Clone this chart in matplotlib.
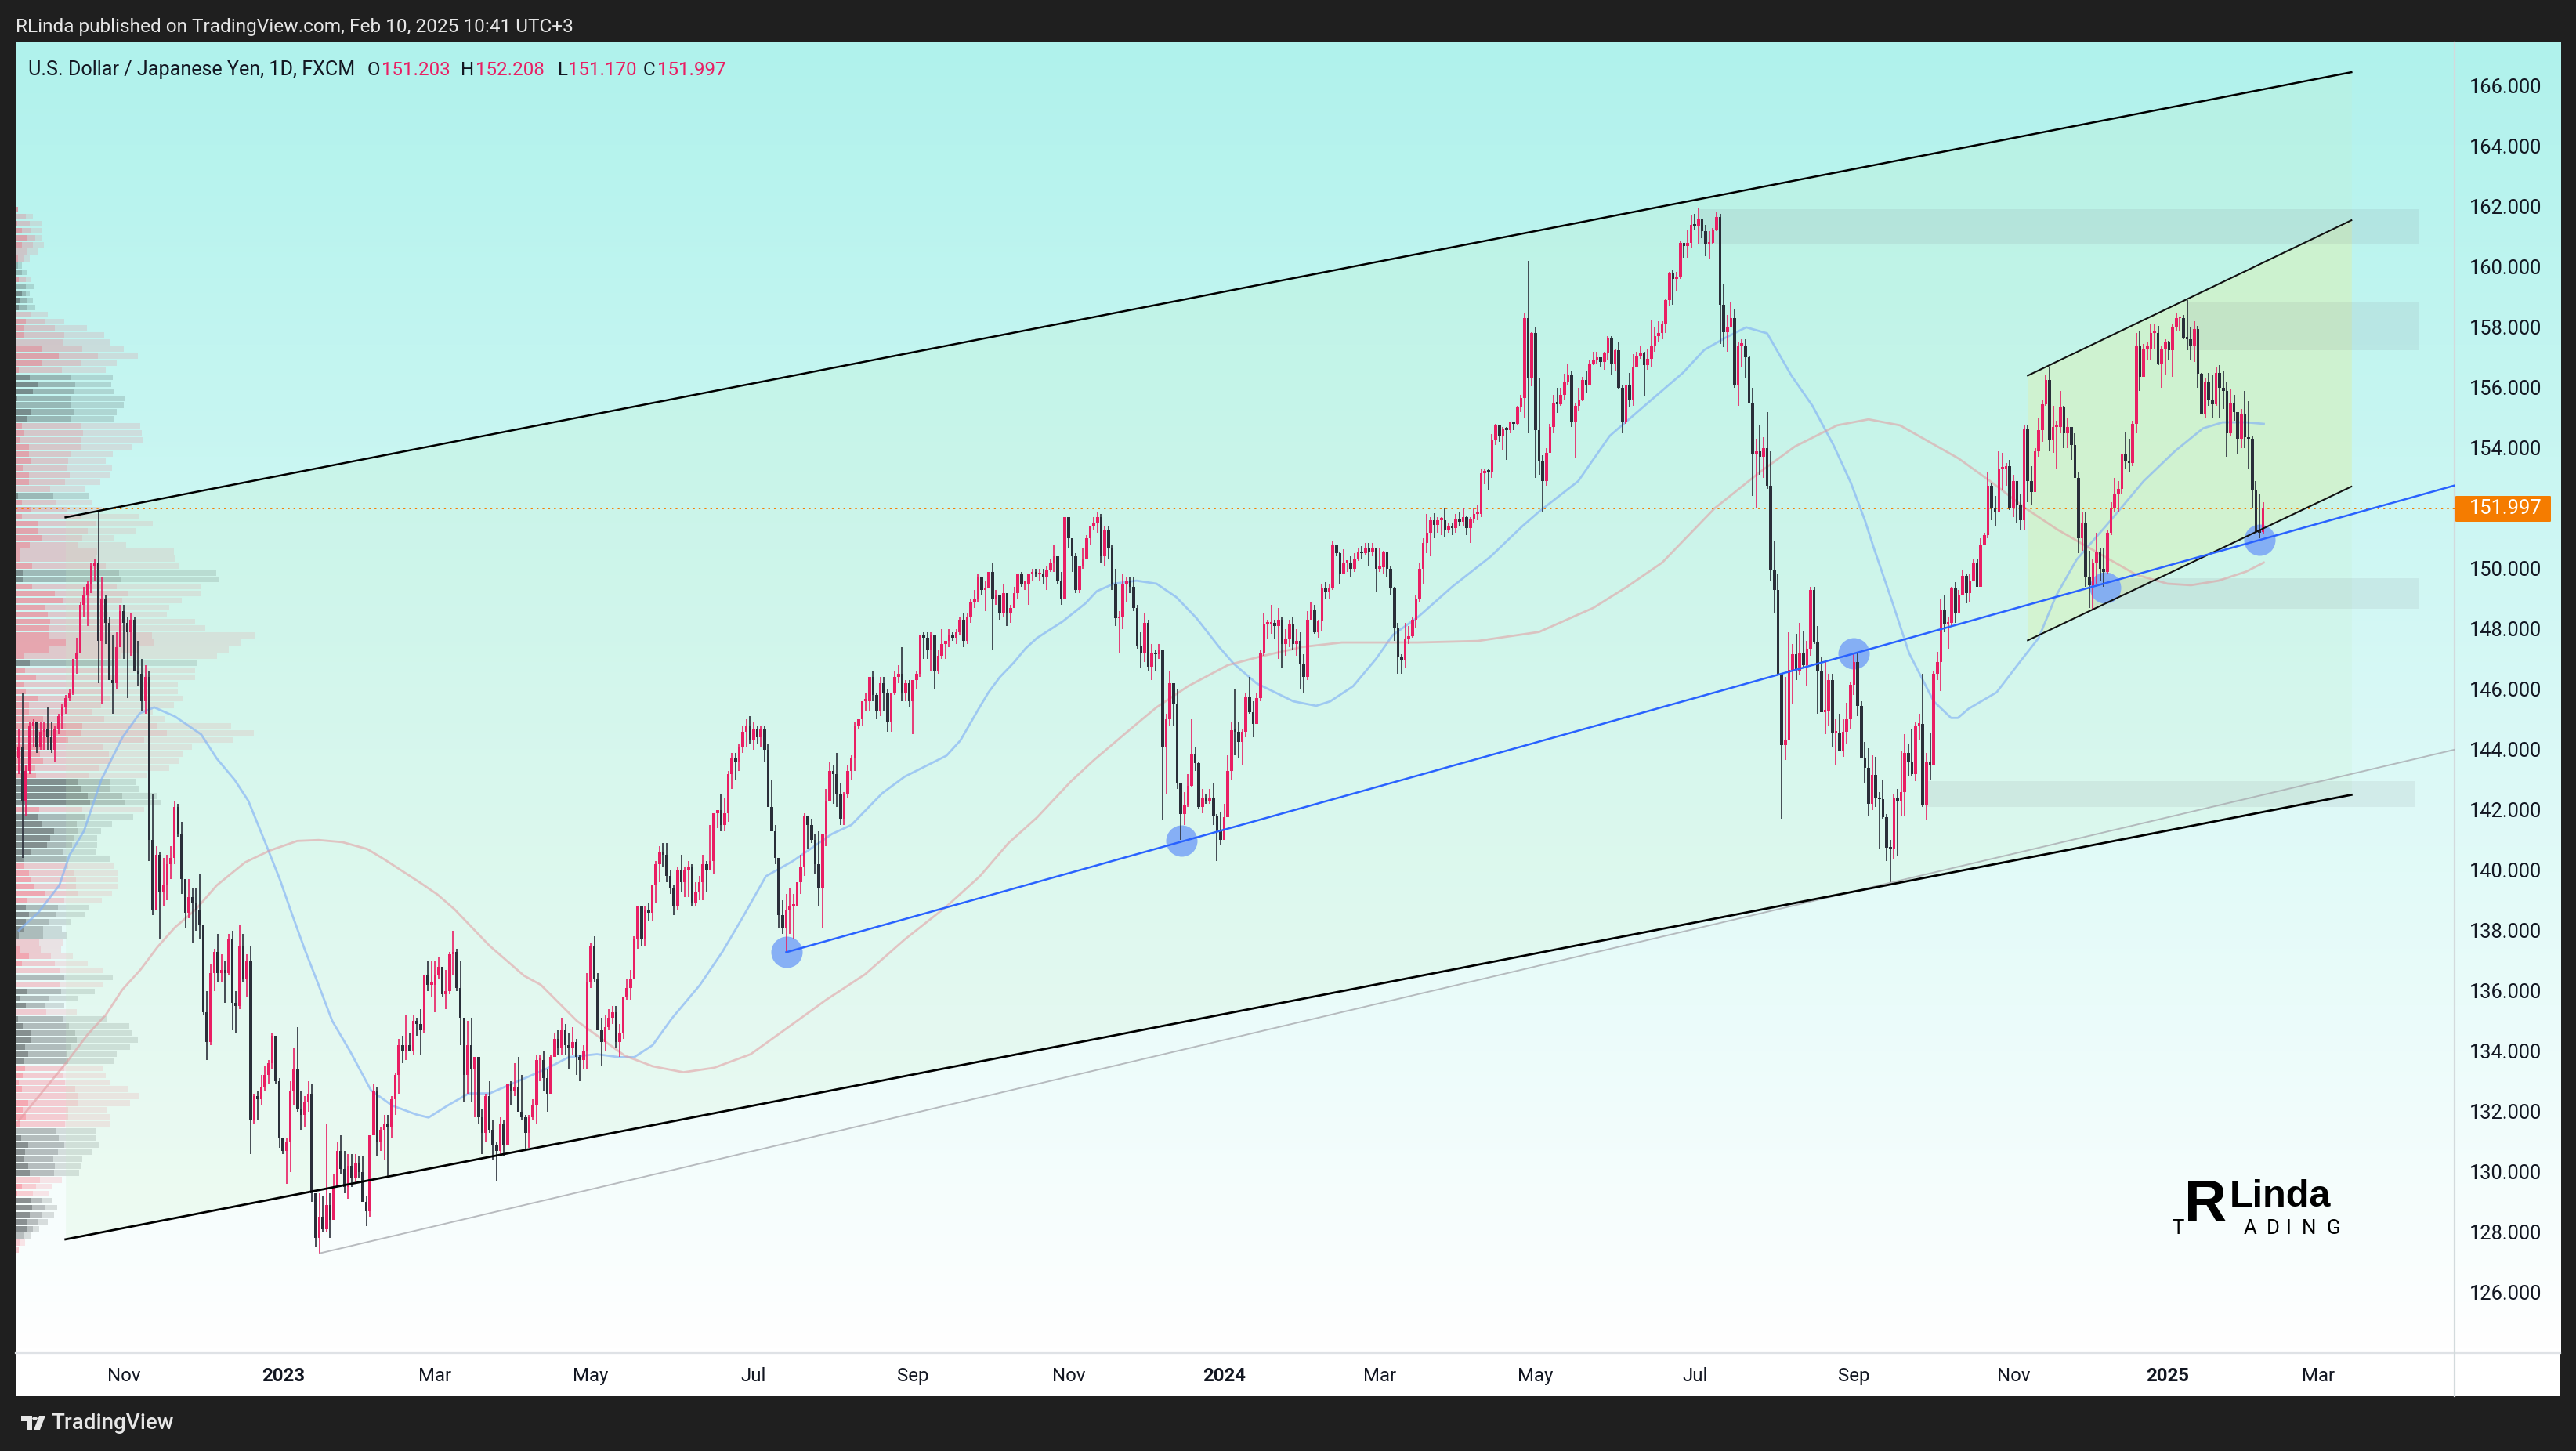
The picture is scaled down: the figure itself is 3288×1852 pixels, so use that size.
import numpy as np
import matplotlib
matplotlib.use("Agg")
import matplotlib.pyplot as plt
from matplotlib.patches import Rectangle, Polygon, FancyBboxPatch

# ---------------- data ----------------
first_bar = -30
closes = [
144.1,142.3,143.3,144.8,144.9,144.1,144.6,144.7,144.4,144.0,
144.7,145.1,145.4,145.7,145.9,147.0,147.2,148.8,149.1,149.5,
150.1,150.2,147.6,149.0,148.2,146.3,146.2,147.4,148.6,148.2,
147.9,148.3,146.6,146.5,145.6,146.4,141.0,138.7,140.5,139.3,
139.5,140.2,140.4,142.1,141.2,139.7,138.6,139.1,138.9,138.7,
138.2,135.3,134.3,136.6,137.3,136.6,136.7,136.6,137.7,135.6,
135.5,137.5,136.4,137.0,131.7,132.5,132.4,132.8,133.2,133.6,
134.5,133.0,131.1,130.7,131.0,132.7,133.4,132.1,131.9,132.3,
132.6,129.3,127.8,128.5,128.1,128.9,128.4,129.5,130.7,130.1,
129.5,130.2,129.8,130.3,130.0,129.0,128.7,131.2,132.7,131.0,
131.4,131.6,131.5,132.4,133.2,134.2,134.0,134.2,134.0,135.0,
134.9,134.7,136.5,136.2,136.2,136.5,136.8,135.9,136.0,137.2,
137.3,136.1,135.1,133.2,134.2,133.4,133.8,131.8,131.3,132.5,
131.4,130.9,130.7,131.6,130.9,132.9,132.7,132.8,132.0,131.8,
131.3,131.8,132.2,133.7,133.7,133.1,132.6,133.8,134.4,134.1,
134.7,134.2,134.1,134.3,133.8,133.7,134.0,136.3,137.5,136.4,
134.7,134.3,134.8,135.1,135.3,134.3,134.6,135.8,136.1,136.4,
137.7,138.8,137.7,138.7,138.6,139.5,140.2,140.6,140.5,139.8,
139.4,138.8,140.0,139.6,140.0,140.1,138.9,139.3,139.6,140.2,
140.0,140.3,141.9,142.0,141.5,141.9,143.2,143.7,143.6,144.1,
144.6,144.8,144.3,144.7,144.4,144.7,144.0,142.1,141.3,140.4,
138.5,138.1,138.7,138.8,138.8,139.6,140.1,141.8,141.5,141.0,
140.2,139.4,141.2,142.3,143.3,143.2,142.5,141.7,142.5,143.3,
143.7,144.8,145.0,145.6,145.6,146.4,145.8,145.3,146.2,145.9,
144.9,145.9,146.4,146.5,145.9,146.2,145.6,146.3,146.5,147.8,
147.7,147.3,147.8,146.6,147.1,147.5,147.6,147.8,147.7,147.9,
148.3,147.6,148.4,148.9,149.0,149.7,149.3,149.35,149.9,149.0,
149.1,148.5,149.2,148.5,148.7,149.2,149.8,149.5,149.5,149.8,
149.9,149.8,149.85,149.7,149.95,150.2,150.4,149.6,149.0,151.7,
151.0,150.4,149.3,150.1,150.3,151.0,151.4,151.5,151.7,150.4,
151.3,150.7,149.5,148.35,148.4,149.5,149.6,149.4,148.7,147.45,
147.2,148.2,146.75,147.2,147.15,147.3,144.1,145.0,146.2,145.5,
142.9,141.85,142.15,142.8,143.85,143.55,142.1,142.4,142.3,142.4,
141.8,141.35,141.0,141.75,143.3,144.65,144.6,144.25,144.6,145.75,
145.25,144.85,145.7,147.2,148.15,148.15,148.2,148.1,148.3,147.5,
147.65,148.15,147.5,147.6,146.85,146.4,148.3,148.65,147.9,148.25,
149.35,149.25,149.35,150.8,150.5,149.85,150.2,150.2,150.0,150.3,
150.55,150.5,150.7,150.55,150.7,150.0,150.05,150.55,150.0,149.35,
148.05,147.05,146.95,147.65,147.75,148.3,149.0,150.0,150.85,151.2,
151.6,151.45,151.6,151.6,151.3,151.4,151.35,151.65,151.55,151.7,
151.35,151.65,151.8,151.8,153.15,153.25,153.2,154.25,154.75,154.4,
154.65,154.6,154.85,154.8,155.35,155.65,158.3,156.3,157.8,154.6,
153.55,152.9,153.85,154.7,155.5,155.45,155.75,156.2,156.4,154.85,
155.4,155.6,156.25,156.1,156.8,156.9,157.0,156.85,157.15,157.65,
156.8,157.25,156.0,154.85,156.1,155.6,156.7,157.05,157.15,156.75,
156.95,157.4,157.7,157.8,158.1,158.9,159.8,159.6,159.65,160.8,
160.7,160.8,161.4,161.35,161.6,161.2,160.75,160.8,161.25,161.65,
158.75,157.85,158.0,158.3,156.1,157.4,157.4,157.0,155.5,153.8,
153.9,153.7,154.0,152.75,149.95,149.3,146.5,144.15,144.3,146.65,
147.15,146.6,147.2,146.8,147.35,149.3,147.55,146.6,145.25,145.3,
146.3,144.55,144.55,143.95,144.6,145.0,146.15,146.9,145.45,143.7,
143.4,142.2,143.15,142.4,142.35,141.75,140.75,140.7,142.4,142.3,
142.6,143.9,143.6,143.2,144.8,144.85,142.15,143.6,143.5,146.5,
146.9,148.65,148.15,148.2,149.35,148.55,149.1,149.75,149.2,149.6,
150.2,149.4,150.8,151.1,152.75,152.0,151.9,153.3,153.3,153.4,
152.0,152.9,152.1,151.6,154.65,152.9,152.55,153.9,154.6,155.45,
156.25,154.25,154.7,154.7,155.35,154.5,154.7,154.1,153.0,151.0,
151.5,149.7,149.45,150.2,150.55,150.0,149.9,151.2,152.0,152.45,
152.65,153.8,153.55,153.5,154.8,157.4,156.35,157.3,157.3,157.8,
157.8,156.8,157.3,157.5,157.25,158.0,158.3,158.3,157.65,157.6,
157.4,157.95,156.45,155.1,156.2,155.6,155.45,156.5,156.0,155.9,
154.5,155.5,155.2,154.3,155.1,154.35,154.3,152.6,151.25,151.2,
151.997]

highs = [
144.7,145.9,143.5,144.9,145.0,144.9,144.9,144.9,145.4,144.9,
144.8,145.2,145.5,145.8,146.0,147.0,147.7,148.9,149.4,149.6,
150.2,150.3,151.9,149.7,149.1,148.4,147.8,147.9,148.8,148.8,
148.4,148.5,148.4,147.6,147.0,146.8,146.6,142.5,140.8,140.6,
140.4,140.5,140.8,142.3,142.2,141.6,139.7,139.7,139.4,139.4,
139.9,138.2,136.0,136.9,137.4,137.9,137.2,137.0,137.9,138.0,
136.0,138.2,137.9,137.2,137.5,132.6,132.7,133.2,133.5,133.7,
134.6,134.5,133.1,131.1,131.1,133.0,134.1,134.8,132.7,132.5,
133.0,132.9,129.3,129.3,129.2,131.6,129.3,129.9,131.0,131.2,
130.7,130.6,130.6,130.6,130.5,130.5,129.2,131.2,132.9,132.8,
131.5,131.9,131.9,132.5,133.3,134.4,134.5,135.2,134.6,135.2,
135.1,135.4,136.5,137.0,137.0,137.0,137.1,136.8,136.7,137.3,
138.0,137.4,137.0,135.1,135.0,135.1,133.8,133.8,132.1,132.6,
133.0,131.7,131.0,131.8,131.7,132.9,133.0,133.6,133.8,133.2,
131.9,131.9,132.4,133.9,133.9,134.0,133.4,133.9,134.6,134.7,
135.1,134.9,134.6,134.8,134.4,133.9,134.2,136.6,137.6,137.8,
136.6,135.1,135.2,135.4,135.5,135.5,134.9,135.8,136.4,136.7,
137.8,138.8,138.8,138.8,138.9,139.5,140.3,140.8,140.9,140.9,
140.0,139.5,140.1,140.5,140.1,140.3,140.2,139.6,139.8,140.5,
140.3,141.5,141.9,142.0,142.5,142.4,143.3,143.9,143.9,144.2,
144.8,145.0,145.1,144.9,144.8,144.8,144.8,144.2,143.0,141.5,
140.4,139.0,139.2,139.4,139.2,139.6,140.5,141.9,141.8,141.7,
141.2,141.3,141.2,142.7,143.6,143.5,143.9,142.9,142.6,143.5,
143.8,144.9,145.0,145.6,145.9,146.4,146.6,145.9,146.4,146.4,
146.0,145.9,146.6,146.8,147.4,146.3,146.3,146.3,146.6,147.8,
147.9,147.9,147.9,147.2,147.3,148.0,147.6,148.0,147.9,148.0,
148.4,148.5,148.5,149.0,149.3,149.8,149.7,149.6,149.9,150.2,
149.3,149.1,149.5,149.2,148.8,149.4,149.8,149.9,149.5,149.8,
150.0,150.0,150.0,150.0,150.1,150.3,150.8,150.4,149.9,151.7,
151.7,151.0,150.5,150.1,150.7,151.1,151.4,151.7,151.9,151.8,
151.4,151.4,150.8,150.0,148.6,149.8,149.7,149.7,149.7,148.8,
147.9,148.5,148.3,147.5,147.3,147.5,147.3,145.2,146.6,146.2,
146.0,142.9,142.6,143.2,145.0,144.1,143.6,142.7,142.5,142.7,
142.9,141.85,141.95,142.2,143.8,144.9,146.0,144.9,144.7,145.85,
146.4,145.6,145.85,147.3,148.55,148.3,148.8,148.3,148.7,148.4,
148.0,148.3,148.4,148.0,147.9,147.15,148.6,148.9,148.8,148.3,
149.5,149.55,149.5,150.9,150.8,150.55,150.65,150.25,150.4,150.5,
150.7,150.75,150.85,150.85,150.85,150.7,150.7,150.6,150.55,150.1,
149.4,148.2,147.15,148.2,148.1,148.4,149.1,150.2,151.0,151.8,
151.7,151.85,151.7,151.7,152.0,151.5,151.5,151.8,151.9,152.0,
151.75,151.7,152.0,152.1,153.3,153.3,153.3,154.45,154.8,154.75,
154.7,154.7,154.85,154.85,155.4,155.75,158.45,160.2,157.85,158.0,
156.3,153.75,154.0,154.8,155.75,156.0,156.0,156.45,156.8,156.55,
155.5,156.0,156.35,156.55,156.9,157.2,157.2,157.0,157.2,157.7,
157.7,157.3,157.5,156.1,156.1,156.5,157.1,157.2,157.4,157.2,
157.3,158.25,158.0,158.2,158.2,158.95,159.85,159.9,159.85,160.85,
160.8,161.25,161.7,161.75,161.95,161.6,161.4,161.2,161.3,161.8,
161.75,159.45,158.4,158.85,158.6,157.5,157.6,157.6,157.05,156.0,
154.3,154.75,154.35,155.2,153.9,150.9,149.8,146.55,146.4,147.9,
147.5,147.85,148.2,147.95,147.6,149.4,149.4,148.1,147.05,146.9,
146.5,146.5,145.0,145.2,145.0,145.55,146.25,147.2,147.2,145.6,
144.25,144.05,143.8,143.75,142.6,143.0,141.85,141.0,142.5,142.7,
143.95,144.5,144.2,144.7,144.9,145.2,146.5,143.9,144.55,146.6,
147.25,149.0,149.1,148.4,149.4,149.55,149.3,149.95,149.8,149.8,
150.3,150.3,151.0,151.2,153.2,152.85,152.4,153.9,153.85,153.5,
153.6,153.1,152.6,152.5,154.75,154.75,153.4,154.0,155.0,155.6,
156.4,156.7,155.4,154.9,155.9,155.4,155.0,154.7,154.5,153.2,
151.9,151.9,150.6,150.3,151.2,150.7,150.7,151.3,152.2,153.0,
152.9,153.8,154.55,154.3,154.9,157.8,157.9,157.45,157.5,158.1,
158.1,158.05,157.4,157.6,157.55,158.1,158.45,158.35,158.4,158.9,
158.0,158.2,158.05,156.5,156.3,156.5,156.4,156.7,156.75,156.55,
156.2,155.95,155.75,155.2,155.3,155.9,155.55,154.4,152.9,152.45,
152.208]

lows = [
143.2,140.4,141.8,143.2,144.1,143.9,144.0,144.0,144.0,143.9,
143.6,144.5,144.7,145.2,145.6,145.8,146.5,147.2,148.4,148.1,
149.2,149.6,146.2,145.5,147.5,146.3,145.2,146.0,147.5,147.0,
145.7,147.1,146.6,146.1,145.3,145.2,140.3,138.5,138.7,137.7,
138.8,139.0,139.7,140.2,141.1,139.2,138.1,138.4,137.6,138.0,
137.7,135.2,133.7,134.2,136.0,136.3,136.3,135.6,136.5,134.7,
134.6,135.4,136.3,135.8,130.6,131.6,131.7,132.2,132.7,132.9,
133.4,132.9,130.8,130.6,129.6,130.0,132.2,132.0,131.4,131.5,
132.0,129.0,127.5,127.3,128.0,128.0,127.8,128.4,129.5,129.9,
129.3,129.1,129.5,129.6,129.8,129.0,128.2,128.5,131.5,130.5,
130.7,130.4,129.8,131.1,131.9,132.6,133.6,133.7,134.0,133.9,
134.5,133.9,134.6,136.0,135.8,135.3,136.4,135.8,135.4,135.9,
136.5,136.0,134.2,132.3,132.6,132.3,131.8,131.6,130.6,131.0,
131.3,130.4,129.7,130.5,130.5,130.9,132.2,132.5,132.0,131.7,
130.7,130.8,131.7,131.6,133.0,132.7,132.0,132.6,133.8,133.9,
133.9,133.9,133.4,133.9,133.2,133.0,133.4,133.4,136.1,136.3,
134.7,133.5,134.0,134.7,134.9,134.1,133.8,134.4,135.7,135.7,
136.4,137.4,137.5,137.5,138.3,138.3,138.9,139.6,140.1,139.6,
139.2,138.5,138.7,139.3,139.1,139.1,138.8,138.8,139.0,139.0,
139.3,140.0,139.9,141.4,141.3,141.3,141.6,142.7,143.0,143.3,
143.9,144.1,144.2,144.0,144.2,144.1,143.6,142.1,141.3,140.2,
138.1,137.9,137.3,137.9,137.7,138.8,139.2,139.8,140.7,140.9,
139.9,138.8,138.1,140.8,142.3,142.2,142.1,141.5,141.5,142.4,
143.0,143.3,144.7,144.8,145.3,145.3,145.6,145.0,145.1,145.3,
144.6,144.6,145.8,146.2,145.6,145.6,145.4,144.5,146.0,146.4,
147.0,147.0,146.6,146.0,146.5,147.0,147.0,147.4,147.6,147.5,
147.8,147.4,147.5,148.2,148.7,148.9,149.1,148.6,149.4,147.3,
148.8,148.3,148.4,148.1,148.2,148.7,149.0,149.4,149.3,148.8,
149.6,149.7,149.6,149.5,149.3,149.9,149.9,149.5,148.8,149.0,
150.7,149.9,149.2,149.2,150.0,150.3,150.8,151.3,151.2,150.2,
150.1,150.3,149.3,148.1,147.2,148.0,148.9,149.2,148.6,147.35,
146.7,146.9,146.6,146.3,146.6,147.0,141.65,142.5,144.8,144.8,
142.7,141.0,141.5,142.1,142.75,143.3,142.05,141.9,142.2,142.2,
141.5,140.3,140.85,141.0,141.9,143.0,143.8,143.7,143.5,144.4,
145.2,144.4,144.85,145.6,147.1,147.65,147.85,147.65,147.0,146.7,
147.1,147.4,147.3,147.1,146.0,145.9,146.3,148.3,147.85,147.7,
147.95,149.0,149.0,149.3,150.4,149.5,149.85,149.9,149.7,149.9,
150.25,150.3,150.45,150.1,150.4,149.25,149.9,149.85,149.7,149.1,
147.6,146.5,146.5,146.7,147.5,147.7,148.05,148.9,149.5,150.5,
150.4,151.0,151.2,151.1,151.05,151.2,151.1,151.2,151.4,151.4,
151.1,150.85,151.5,151.6,151.7,152.8,152.6,153.0,154.1,154.2,
153.95,153.6,154.5,154.6,154.75,155.2,155.0,154.5,156.05,153.0,
153.1,151.9,152.75,153.85,154.5,155.15,155.4,155.6,156.1,154.7,
153.65,155.25,155.55,155.85,156.1,156.75,156.8,156.7,156.6,156.9,
156.4,156.55,155.95,154.5,154.8,155.35,155.4,156.7,156.95,155.7,
156.6,156.7,157.2,157.5,157.6,157.8,158.7,158.75,159.2,159.6,
160.3,160.3,160.65,161.25,160.75,160.95,160.35,160.25,160.75,161.2,
157.45,157.35,157.2,158.0,156.0,155.4,156.7,156.3,155.5,152.4,
152.0,153.1,153.0,152.65,149.6,148.5,146.45,141.7,143.65,144.3,
145.5,146.3,146.45,146.7,146.1,147.1,147.5,145.2,145.25,144.5,
144.8,144.1,143.5,143.95,143.75,144.2,144.7,145.8,145.1,143.7,
142.9,141.8,142.0,142.1,140.7,141.7,140.3,139.6,140.35,140.45,
141.8,141.8,143.1,143.1,142.95,144.3,142.1,141.65,143.0,143.5,
146.3,145.95,147.9,147.35,148.1,148.2,148.5,149.1,148.85,148.9,
149.6,149.4,149.45,150.8,151.0,151.6,151.4,152.2,152.6,152.75,
151.95,151.7,151.5,151.3,151.3,152.2,152.1,152.55,153.7,154.2,
155.4,153.9,153.85,153.3,154.5,154.0,154.0,153.6,153.0,150.5,
150.6,149.4,148.7,148.65,149.5,149.6,149.4,149.8,151.1,151.9,
151.9,152.5,153.3,153.2,153.4,154.5,155.9,156.35,156.9,156.9,
157.3,156.75,156.0,156.4,156.9,156.35,157.9,157.9,157.6,157.25,
156.9,156.85,156.0,155.1,155.0,155.4,155.0,155.4,155.0,155.3,
153.7,154.4,154.9,153.8,154.0,154.0,153.3,152.0,151.2,151.0,
151.17]

ma_fast_bar = [-30,-24.6,-18.8,-16,-12,-7.2,-1.4,3.4,7.4,13.1,20.4,24.7,29.6,33.4,37.8,42.1,45,48.9,52.8,56.6,61.5,67.3,73.1,79.8,83.2,88.5,94.3,100.1,107.8,115.5,
121.9,129.7,135.8,140,145.1,150.5,158.2,164.4,169.8,176.4,183.8,194.6,200,208.5,214.7,226.3,230.1,235.4,
237.9,241,245,248.1,251.3,258.4,264.7,267.8,272.5,278.8,284.3,289.8,295.4,301.6,305.6,311.9,322.1,328.4,332.3,338.6,344.9,349.6,356.6,
366,376.6,385.3,390.1,400.8,409.5,420.1,429.8,435.6,441.4,447.2,453,459.7,465.5,471.3,476.1,480,
482.5,487.4,492.2,499,503.8,505.7,508.6,516.4,523.1,528,532.8,538.5,547.2,557,565.7,573.4,578.8,585.3,590.2]
ma_fast_val = [138.0,138.6,139.5,140.5,141.3,143.0,144.4,145.2,145.4,145.1,144.5,143.7,143.0,142.3,141.0,139.7,138.7,137.4,136.2,135.0,134.0,132.7,132.2,131.9,131.8,132.2,132.6,132.6,133.0,133.4,
133.8,133.9,133.8,133.8,134.2,135.1,136.2,137.3,138.4,139.8,140.3,141.2,141.5,142.55,143.1,143.8,144.3,145.4,
145.9,146.4,146.9,147.35,147.7,148.25,148.85,149.25,149.5,149.6,149.5,149.05,148.35,147.4,146.85,146.2,145.6,145.45,145.6,146.1,147.0,147.8,148.4,
149.4,150.4,151.4,151.9,152.9,154.4,155.5,156.5,157.25,157.65,158.0,157.8,156.4,155.4,154.1,152.85,151.6,
150.67,148.95,147.2,145.6,145.05,145.05,145.35,145.9,146.95,147.7,149.1,150.3,151.5,152.9,153.9,154.65,154.85,154.85,154.8]

ma_slow_bar = [-30,-17,-11,-6,-1.4,3.6,8.3,13.1,18.9,24.7,32.5,39.3,46.9,52.8,59.4,66.3,71.1,80.7,85.6,90.4,100,109.6,114.2,124.2,137.4,145.1,153.6,162.1,172.2,183.8,193,203.8,214.7,226.3,235.5,
243.4,251.3,260.7,267,277.3,284.3,293,304,313.5,324.5,335.5,356.6,373,390,405,414.3,424,438.5,451,460.7,472.3,481,489.7,505.9,
514.6,524.4,533.1,541.8,554.9,563.6,570.1,577.7,585.3,590.2]
ma_slow_val = [131.7,133.6,134.55,135.2,136.04,136.7,137.45,138.1,138.7,139.5,140.26,140.65,140.97,141.0,140.93,140.7,140.35,139.6,139.2,138.7,137.5,136.5,136.2,135.0,133.85,133.5,133.3,133.45,133.9,134.9,135.7,136.55,137.7,138.8,139.8,
140.9,141.75,142.95,143.65,144.7,145.4,146.1,146.8,147.1,147.4,147.55,147.55,147.6,147.9,148.7,149.4,150.2,152.0,153.2,154.05,154.75,154.95,154.75,153.65,
152.9,152.0,151.3,150.7,149.8,149.5,149.45,149.6,149.9,150.2]

vp_rows = [
("p",2.5,2.5,2.5),("p",0,13,22),("p",2,18,34),("p",8,20,34),("p",15,25,34),("p",8,22,36),("p",0,15,29),("p",3,10,18),
("t",0,3,8),("t",0,8,15),("p",4,13,20),("t",0,13,24),("t",8,13,18),("t",6,15,22),("t",4,15,25),("p",0,20,41),
("p",13,38,62),("p",11,50,91),("p",11,62,113),("p",0,61,120),("p",33,85,138),("p",55,105,156),("p",34,83,129),("p",4,59,115),
("t",18,71,124),("t",29,76,122),("t",22,75,126),("t",2,71,139),("t",1,70,138),("t",20,75,129),("t",14,70,126),
("p",8,83,159),("p",11,86,161),("p",5,84,162),("p",17,83,149),("p",17,71,124),("p",19,67,115),("p",9,66,123),
("p",16.5,69,121),("p",17,63,108),("p",0,44,88),("t",3,48,93),("p",8,52,97),("p",19,65,110),("p",8,84,158),("p",29,103,175),
("p",29,92,153),("p",33,85,125),("p",18,80,141),("p",5,104,202),("p",5,103,204),("p",21,115,209),("t",9,132,256),("t",9,134,259),
("p",21,129,237),("p",50,143,237),("p",60,136,212),("p",37,116,196),("p",41,118,193),("p",44,136,229),("p",43,143,242),("p",43,174,305),
("p",64,176,288),("p",43,157,272),("p",10,134,257),("t",18,125,232),("p",12,120,229),("p",26,127,229),("p",10,109,207),("p",13,109,207),
("p",28,120,213),("p",17,109,202),("p",17,97,175),("p",35,113,190),("p",85,180,275),("p",83,193,304),("p",67,164,278),("p",36,112,225),
("p",31,119,214),("p",35,122,208),("p",25,107,196),("p",26,94,168),("t",80,120,154),("t",84,120,157),("t",92,136,181),("t",95,140,185),
("p",30,85,164),("t",29,89,150),("t",33,78,123),("t",49,79,109),("t",44,75,104),("t",40,72,104),("t",19,61,103),("t",10,66,121),
("p",10,67,125),("p",17,74,130),("p",20,77,130),("p",23,77,130),("p",37,80,123),("p",15,62,110),("t",13,54,94),("t",17,52,88),
("t",13,42,70),("t",11,35,59),("t",4,35,65),("p",0,30,60),("p",6,32,58),("p",17,45,73),("p",8,50,92),("p",0,56,112),
("t",0,62,124),("p",0,56,112),("t",14,58,101),("t",5,42,80),("t",13,37,62),("p",0,39,78),("t",3,60,116),("t",9,68,145),
("t",20,76,148),("t",19,78,156),("t",12,70,146),("t",16,65,129),("t",10,67,125),("p",12,62,112),("p",9,61,115),("p",4,63,121),
("p",8,76,143),("p",0,79,158),("p",16,80,146),("p",9,67,116),("p",13,67,121),("p",5,63,121),("t",0,51,102),("t",7,55,103),
("t",16,62,106),("t",12,54,97),("t",11,48,85),("t",16,50,84),("t",18,49,81),("p",0,31,59),("p",8,26,46),("p",2,22,43),
("t",20,33,46),("t",21,37,53),("t",18,33,49),("t",15,28,41),("t",14,22,30),("t",1,11,20),("p",0,6,12),("p",0,4,4)]
vp_side = [r[0] for r in vp_rows]
vp_strong = [r[1] for r in vp_rows]
vp_mid = [r[2] for r in vp_rows]
vp_total = [r[3] for r in vp_rows]
vp_top_price, vp_bottom_price = 161.9, 127.42

price_ticks = list(range(126, 168, 2))
time_ticks = [-1,43,85,128,173,217,260,303,346,389,433,477,521,563.5,605.2]
time_labels = ["Nov","2023","Mar","May","Jul","Sep","Nov","2024","Mar","May","Jul","Sep","Nov","2025","Mar"]
last_price = 151.997

touch_bar = [182,291.2,477,546.3,589.1]
touch_price = [137.28,140.98,147.19,149.37,150.95]
zones = [(434.1,633,160.77,161.92),(569,633,157.25,158.85),(543,633,148.68,149.67),(497,632,142.1,142.95)]

# ---------------- layout ----------------
W, H = 3288, 1852
DPI = 100
plt.rcParams["font.family"] = ["Roboto", "DejaVu Sans"]
fig = plt.figure(figsize=(W/DPI, H/DPI), dpi=DPI, facecolor="#1f1f1f")
def box(x0, y0, x1, y1):
    return [x0/W, 1-y1/H, (x1-x0)/W, (y1-y0)/H]

# gradient behind chart and price scale
bg = fig.add_axes(box(20, 54, 3268, 1727), zorder=0)
top = np.array([176, 242, 236])/255
g = np.linspace(0, 1, 256)[:, None, None]
bg.imshow(top + (1-top)*g, aspect="auto", extent=(0, 1, 0, 1))
bg.set_axis_off()

# time scale
fig.add_artist(Rectangle((20/W, 1-1782/H), 3248/W, 55/H, transform=fig.transFigure, fc="white", ec="none", zorder=0.5))
fig.add_artist(plt.Line2D([20/W, 3268/W], [1-1727/H]*2, transform=fig.transFigure, color="#dfe2e6", lw=1.6, zorder=0.6))
fig.add_artist(plt.Line2D([3133/W]*2, [1-54/H, 1-1782/H], transform=fig.transFigure, color="#d3dadc", lw=1.6, zorder=0.6))

ax = fig.add_axes(box(20, 54, 3133, 1727), zorder=3)
ax.patch.set_visible(False)
ax.set_xlim(-30.87, 642.9)
ax.set_ylim(123.99, 167.45)
for s in ax.spines.values():
    s.set_visible(False)

# volume profile, 1 unit = one pixel of the pane width
vp = fig.add_axes(box(20, 54, 3133, 1727), zorder=2)
vp.patch.set_visible(False)
vp.set_xlim(0, 3113)
vp.set_ylim(123.99, 167.45)
vp.set_axis_off()
levels = np.linspace(vp_top_price, vp_bottom_price, len(vp_rows))
bases = {"p": "#ff3650", "t": "#484e50"}
for lv, sd, a, b, c in zip(levels, vp_side, vp_strong, vp_mid, vp_total):
    col = bases[sd]
    s_alpha = 0.42 if sd == "p" else 0.62
    if a > 0:
        vp.barh(lv, a, height=0.19, color=col, alpha=s_alpha, lw=0)
    vp.barh(lv, b-a, left=a, height=0.19, color=col, alpha=0.24 if sd == "p" else 0.36, lw=0)
    vp.barh(lv, c-b, left=b, height=0.19, color=col, alpha=0.12 if sd == "p" else 0.18, lw=0)

# channel fills
big_x = [-17.1, 614.4]
big_up = [151.7, 166.46]
big_lo = [127.76, 142.5]
ax.fill_between(big_x, big_lo, big_up, color="#c8f0c9", alpha=0.2, lw=0, zorder=1)
small_x = [525, 614.4]
small_up = [156.4, 161.55]
small_lo = [147.62, 152.72]
ax.fill_between(small_x, small_lo, small_up, color="#d6f2c0", alpha=0.6, lw=0, zorder=1.1)
for x0, x1, y0, y1 in zones:
    ax.add_patch(Rectangle((x0, y0), x1-x0, y1-y0, fc="#787b86", alpha=0.11, ec="none", zorder=1.2))

# averages
ax.plot(ma_fast_bar, ma_fast_val, color="#82b1f5", alpha=0.65, lw=2.0, zorder=2)
ax.plot(ma_slow_bar, ma_slow_val, color="#e39a9f", alpha=0.55, lw=2.0, zorder=2)

# price line
ax.axhline(last_price, color="#f57c00", lw=1.4, ls=(0, (1.2, 2.6)), zorder=2.2)

# touch circles
ax.scatter(touch_bar, touch_price, s=830, color="#7da8f6", alpha=0.9, lw=0, zorder=2.4)

# candles
closes_a = np.array(closes)
bars = np.arange(first_bar, first_bar+len(closes_a))
opens_a = np.r_[143.7, closes_a[:-1]]
opens_a[-1] = 151.203
up = closes_a >= opens_a
colors = np.where(up, "#e91e63", "#2a2e39")
ax.vlines(bars, lows, highs, colors=colors, lw=1.2, zorder=3)
body_low = np.minimum(opens_a, closes_a)
body_h = np.maximum(np.abs(closes_a-opens_a), 0.07)
ax.bar(bars, body_h, bottom=body_low, width=0.78, color=colors, lw=0, zorder=3.1)

# trend lines
ax.plot(big_x, big_up, color="black", lw=1.8, zorder=4)
ax.plot(big_x, big_lo, color="black", lw=2.0, zorder=4)
ax.plot(small_x, small_up, color="#111111", lw=1.5, zorder=4)
ax.plot(small_x, small_lo, color="#111111", lw=1.5, zorder=4)
ax.plot([53.2, 643], [127.3, 144.0], color="#a9abb0", lw=1.4, alpha=0.8, zorder=3.9)
ax.plot([182, 643], [137.28, 152.76], color="#2962ff", lw=1.8, zorder=4.1)

# axes
ax.yaxis.tick_right()
ax.set_yticks(price_ticks)
ax.set_yticklabels([f"{v:.3f}" for v in price_ticks])
ax.tick_params(axis="y", length=0, pad=13.5, labelsize=18.4, labelcolor="#131722")
ax.set_xticks(time_ticks)
ax.set_xticklabels(time_labels)
ax.tick_params(axis="x", length=0, pad=13, labelsize=17.3, labelcolor="#131722")
for t in ax.get_xticklabels():
    if t.get_text().isdigit():
        t.set_fontweight("bold")

# last price label
fig.add_artist(FancyBboxPatch((3134/W, 1-666/H), 122/W, 33/H, boxstyle="round,pad=0,rounding_size=0.0005",
               transform=fig.transFigure, fc="#f57c00", ec="none", zorder=5))
fig.text(3152/W, 1-649/H, "151.997", color="white", fontsize=18.4, va="center", ha="left", zorder=6)

# header and legend
def put(px, py, s, **kw):
    kw.setdefault("va", "center")
    kw.setdefault("ha", "left")
    kw.setdefault("zorder", 6)
    fig.text(px/W, 1-py/H, s, **kw)
put(20, 35, "RLinda published on TradingView.com, Feb 10, 2025 10:41 UTC+3", color="#e6e6e6", fontsize=17.6)
put(36, 89, "U.S. Dollar / Japanese Yen, 1D, FXCM", color="#131722", fontsize=18.1)
for px, s, c in [(469,"O","#131722"),(487,"151.203","#e91e63"),(588,"H","#131722"),(607,"152.208","#e91e63"),
                 (712,"L","#131722"),(725,"151.170","#e91e63"),(821,"C","#131722"),(839,"151.997","#e91e63")]:
    put(px, 89, s, color=c, fontsize=17.4)

# watermark
logo_font = ["Liberation Sans", "DejaVu Sans"]
put(2788, 1538, "R", color="black", fontsize=54, fontweight="bold", family=logo_font)
put(2846, 1528, "Linda", color="black", fontsize=35, fontweight="bold", family=logo_font)
for px, s in [(2772,"T"),(2864,"A"),(2893,"D"),(2918,"I"),(2938,"N"),(2969,"G")]:
    put(px, 1568, s, color="black", fontsize=18.5)

# footer
put(65, 1816, "TradingView", color="#e6e6e6", fontsize=20, fontweight="medium")
def lg(pts, **kw):
    fig.add_artist(Polygon([(x/W, 1-y/H) for x, y in pts], transform=fig.transFigure, fc="#e6e6e6", ec="none", zorder=6, **kw))
lg([(27,1807),(41,1807),(41,1825),(34,1825),(34,1814),(27,1814)])
fig.add_artist(plt.Circle((44.5/W, 1-1810.5/H), 3.4/W, transform=fig.transFigure, fc="#e6e6e6", ec="none", zorder=6))
lg([(50,1807),(58,1807),(51,1825),(43,1825)])

fig.savefig("out.png", dpi=DPI, facecolor=fig.get_facecolor())
